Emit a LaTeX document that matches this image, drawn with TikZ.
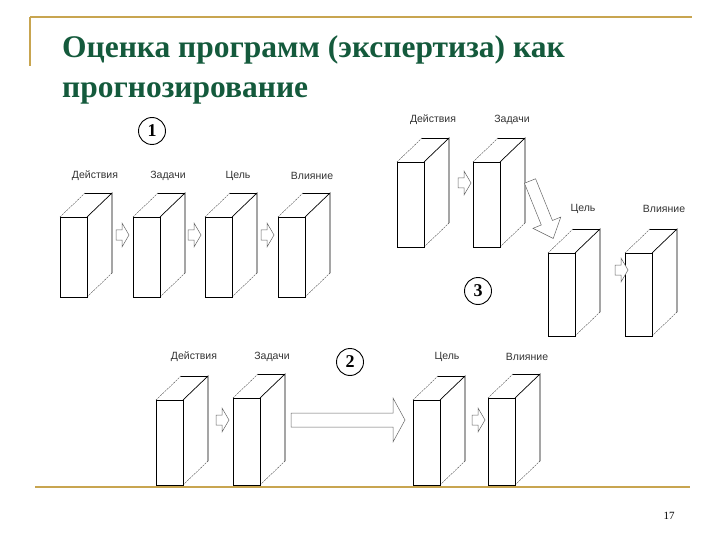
\documentclass[tikz,border=0pt]{standalone}
\usepackage{fontspec}
\setmainfont{Liberation Serif}
\newfontfamily\lsans{Liberation Sans}
\begin{document}
\begin{tikzpicture}[x=1pt,y=-1pt,
  gold/.style={draw={rgb,255:red,200;green,165;blue,80},line width=1.8pt},
  face/.style={draw=black,line width=0.7pt},
  back/.style={draw=black!70,line width=0.4pt,dash pattern=on 2pt off 1pt},
  lab/.style={font=\lsans\fontsize{10.5}{11}\selectfont,text=black!80},
  num/.style={draw,circle,line width=0.9pt,minimum size=27pt,inner sep=0pt,font=\fontsize{18}{18}\selectfont\bfseries},
  barr/.style={draw=black!60,line width=0.5pt,fill=white}]
\useasboundingbox (0,0) rectangle (720,540);
\newcommand\cube[4]{% name, x, y, h
  \draw[back] (#2,#3) -- ++(25,-24);
  \draw[back] (#2+27,#3+#4) -- ++(25,-24);
  \draw[face] (#2+27,#3) -- ++(25,-24) -- ++(0,#4);
  \draw[face] (#2+25,#3-24) -- ++(27,0);
  \node[face,draw,fill=white,minimum width=27pt,minimum height=#4 pt,inner sep=0pt,anchor=north west] (#1) at (#2,#3) {};}
\newcommand\barrow[4]{% x,y,len,angle
  \draw[barr,shift={(#1,#2)},rotate=#4] (0,-5) -- (#3-7,-5) -- (#3-7,-12) -- (#3,0) -- (#3-7,12) -- (#3-7,5) -- (0,5) -- cycle;}
% frame lines
\draw[gold] (30,17) -- (692,17);
\draw[gold] (30,17) -- (30,66);
\draw[gold] (35,487) -- (690,487);
% title
\node[anchor=base west,inner sep=0pt,text={rgb,255:red,20;green,90;blue,60},font=\fontsize{31.5}{31.5}\selectfont\bfseries] (t1) at (62,58) {Оценка программ (экспертиза) как};
\node[anchor=base west,inner sep=0pt,text={rgb,255:red,20;green,90;blue,60},font=\fontsize{31.5}{31.5}\selectfont\bfseries] (t2) at (62,98) {прогнозирование};
% panel 1
\node[num] (n1) at (152,131) {1};
\cube{a1}{60}{217}{80}
\cube{b1}{133}{217}{80}
\cube{c1}{205}{217}{80}
\cube{d1}{278}{217}{80}
\node[lab] at (95,176) {Действия};
\node[lab] at (168,176) {Задачи};
\node[lab] at (238,176) {Цель};
\node[lab] at (312,176) {Влияние};
\barrow{116}{235}{13}{0}
\barrow{188}{235}{13}{0}
\barrow{261}{235}{13}{0}
% panel 3
\cube{a3}{397}{162}{85}
\cube{b3}{473}{162}{85}
\cube{c3}{548}{253}{83}
\cube{d3}{625}{253}{83}
\node[lab] at (433,120) {Действия};
\node[lab] at (512,120) {Задачи};
\node[lab] at (583,209) {Цель};
\node[lab] at (664,209) {Влияние};
\barrow{458}{183}{13}{0}
\barrow{615}{270}{13}{0}
\draw[barr,shift={(530,181)},rotate=-68] (0,-6) -- (45,-6) -- (45,-15) -- (62,0) -- (45,15) -- (45,6) -- (0,6) -- cycle;
\node[num] (n3) at (478,291) {3};
% panel 2
\cube{a2}{156}{400}{85}
\cube{b2}{233}{398}{87}
\cube{c2}{413}{400}{85}
\cube{d2}{488}{398}{87}
\node[lab] at (194,357) {Действия};
\node[lab] at (272,357) {Задачи};
\node[lab] at (447,357) {Цель};
\node[lab] at (527,357) {Влияние};
\barrow{216}{420}{13}{0}
\barrow{472}{420}{13}{0}
\draw[barr] (291,413) -- (393,413) -- (393,398) -- (405,420) -- (393,442) -- (393,427) -- (291,427) -- cycle;
\node[num] (n2) at (350,362) {2};
\node[font=\fontsize{11}{11}\selectfont] at (669,516) {17};
\end{tikzpicture}
\end{document}
